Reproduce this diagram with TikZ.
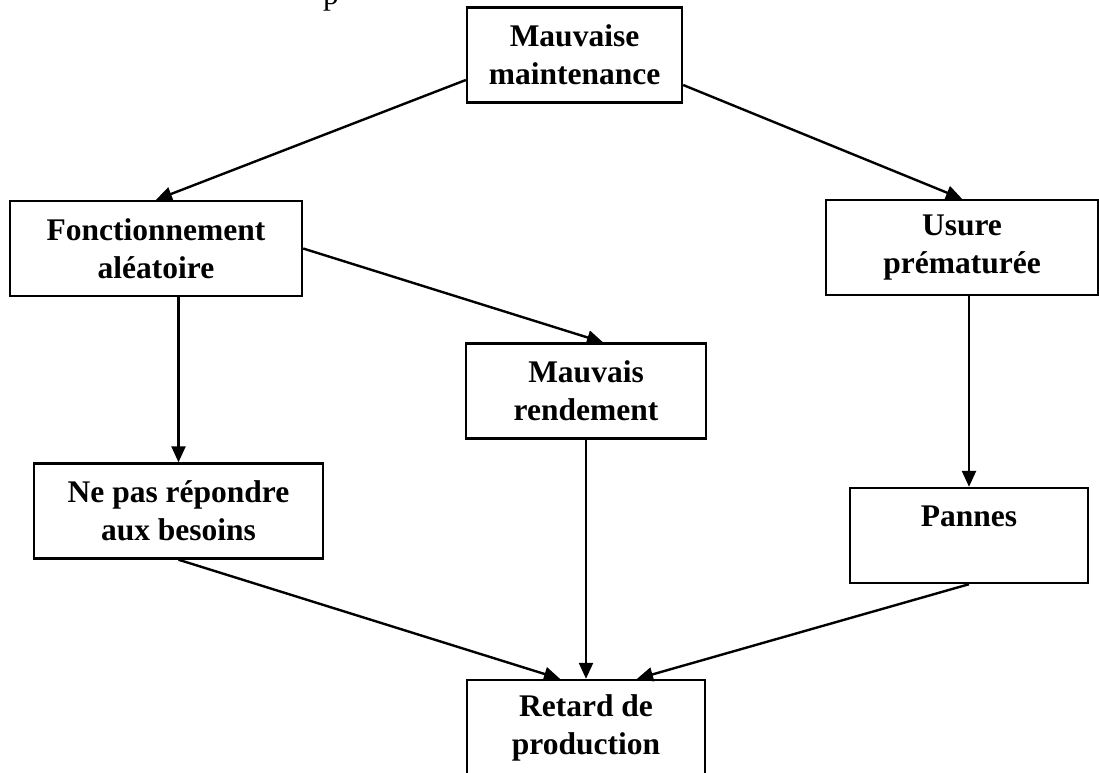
\documentclass[tikz,border=0pt]{standalone}
\usepackage{fontspec}
\setmainfont{Liberation Serif}
\usetikzlibrary{arrows.meta}
\begin{document}
\begin{tikzpicture}[x=1pt,y=-1pt,
  box/.style={draw,line width=2.4pt,rectangle,align=center,inner sep=0pt,
    font=\fontsize{31.5}{38}\selectfont\bfseries,minimum height=95pt},
  link/.style={line width=2.4pt,-{Triangle[length=16pt,width=14pt]}}]
\clip (0,0) rectangle (1099,772);
\fill[white] (0,0) rectangle (1099,772);
% stray descender of a line above
\node[anchor=base,inner sep=0pt,font=\fontsize{31.5}{38}\selectfont] (frag) at (331,4) {p};
% boxes
\node[box,minimum width=215pt] (mm) at (574.5,55) {Mauvaise\\maintenance};
\node[box,minimum width=292pt] (fa) at (156,248.5) {Fonctionnement\\aléatoire};
\node[box,minimum width=272pt] (up) at (962,247.5) {Usure\\prématurée};
\node[box,minimum width=240pt] (mr) at (586,391) {Mauvais\\rendement};
\node[box,minimum width=289pt] (np) at (178.5,511) {Ne pas répondre\\aux besoins};
\node[box,minimum width=238pt] (pa) at (969,535.5) {Pannes\\\mbox{}};
\node[box,minimum width=238pt] (rp) at (586,727.5) {Retard de\\production};
% connectors
\draw[link] ([yshift=-25pt]mm.west) -- (fa.north);
\draw[link] ([yshift=-30pt]mm.east) -- (up.north);
\draw[link] (fa.east) -- ([xshift=17pt]mr.north);
\draw[link] (fa.south -| np.north) -- (np.north);
\draw[link] (up.south -| pa.north) -- (pa.north);
\draw[link] (np.south) -- ([xshift=-26pt]rp.north);
\draw[link] (mr.south) -- (rp.north);
\draw[link] (pa.south) -- ([xshift=51pt]rp.north);
\end{tikzpicture}
\end{document}
